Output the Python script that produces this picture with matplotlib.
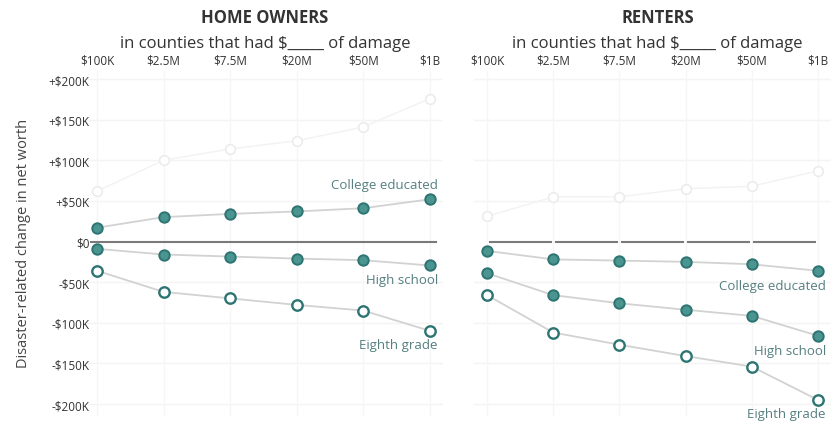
import matplotlib
matplotlib.use('Agg')
import matplotlib.pyplot as plt

plt.rcParams['font.family'] = ['Open Sans', 'DejaVu Sans']

damage = ['$100K', '$2.5M', '$7.5M', '$20M', '$50M', '$1B']
yticks = [200, 150, 100, 50, 0, -50, -100, -150, -200]
ytick_labels = ['+$200K', '+$150K', '+$100K', '+$50K', '$0',
                '-$50K', '-$100K', '-$150K', '-$200K']

# values in $K
own_college = [17, 30, 34, 37, 41, 52]
own_high = [-9, -16, -18.5, -21, -23, -29.5]
own_eighth = [-36, -62, -70, -78, -85, -110]
own_ghost = [62, 100, 114, 124, 141, 176]

rent_college = [-11.5, -22, -23.5, -25, -28, -36]
rent_high = [-39, -66, -76, -84, -91.5, -116]
rent_eighth = [-66, -112, -127, -141, -154, -195]
rent_ghost = [31, 55, 55, 65, 68, 87]

teal = '#4a958f'
edge = '#2d7473'
line_c = '#d2d2d2'
lab_c = '#557f80'

fig = plt.figure(figsize=(8.37, 4.27), dpi=100)
W, H = 837, 427


def make_ax(left_px, right_px):
    top, bottom = 71.9, 417.2
    return fig.add_axes([left_px / W, 1 - bottom / H,
                         (right_px - left_px) / W, (bottom - top) / H])


def draw_panel(ax, college, high, eighth, ghost, labels, dashed_zero):
    x = range(len(damage))
    ax.set_xlim(-0.2, 5.2)
    ax.set_ylim(-215, 210)
    for yv in yticks:
        if yv != 0:
            ax.axhline(yv, color='#f4f4f4', lw=1, zorder=0)
    for xv in x:
        ax.axvline(xv, color='#f6f6f6', lw=1, zorder=0)
    ax.plot(x, ghost, color='#f2f2f2', lw=1, marker='o', ms=7,
            mfc='white', mec='#ececec', mew=1.2, zorder=1)
    if dashed_zero:
        for i in range(5):
            ax.plot([i + 0.04, i + 0.96], [0, 0], color='#7a7a7a', lw=1.5, zorder=2)
    else:
        ax.axhline(0, xmin=0.02, xmax=0.98, color='#7a7a7a', lw=1.5, zorder=2)
    ax.plot(x, college, color=line_c, lw=1.3, marker='o', ms=7.5,
            mfc=teal, mec=edge, mew=1.4, zorder=3)
    ax.plot(x, high, color=line_c, lw=1.3, marker='o', ms=7.5,
            mfc=teal, mec=edge, mew=1.4, zorder=3)
    ax.plot(x, eighth, color=line_c, lw=1.3, marker='o', ms=7.5,
            mfc='white', mec=edge, mew=1.7, zorder=3)
    for name, yv in labels:
        ax.text(5.12, yv, name, ha='right', va='center', fontsize=9.5, color=lab_c)
    ax.set_xticks(list(x))
    ax.set_xticklabels(damage, fontsize=8.5, color='#333333')
    ax.xaxis.tick_top()
    ax.tick_params(axis='x', length=0, pad=3)
    for s in ax.spines.values():
        s.set_visible(False)


ax1 = make_ax(83.7, 443.3)
ax2 = make_ax(473.8, 831.2)

draw_panel(ax1, own_college, own_high, own_eighth, own_ghost,
           [('College educated', 70), ('High school', -47), ('Eighth grade', -127)], False)
draw_panel(ax2, rent_college, rent_high, rent_eighth, rent_ghost,
           [('College educated', -54), ('High school', -134), ('Eighth grade', -212)], True)

ax1.set_yticks(yticks)
ax1.set_yticklabels(ytick_labels, fontsize=8.5, color='#333333')
ax1.tick_params(axis='y', length=0, pad=-4)
ax2.set_yticks([])

fig.text(265 / W, 1 - 18 / H, 'HOME OWNERS', ha='center', va='center',
         fontsize=12, fontweight='bold', color='#333333')
fig.text(658 / W, 1 - 18 / H, 'RENTERS', ha='center', va='center',
         fontsize=12, fontweight='bold', color='#333333')
fig.text(265 / W, 1 - 44 / H, 'in counties that had $_____ of damage', ha='center',
         va='center', fontsize=12, color='#333333')
fig.text(657 / W, 1 - 44 / H, 'in counties that had $_____ of damage', ha='center',
         va='center', fontsize=12, color='#333333')
fig.text(24 / W, 1 - 243 / H, 'Disaster-related change in net worth', rotation=90,
         ha='center', va='center', fontsize=10.5, color='#444444')

fig.savefig('out.png', dpi=100)
